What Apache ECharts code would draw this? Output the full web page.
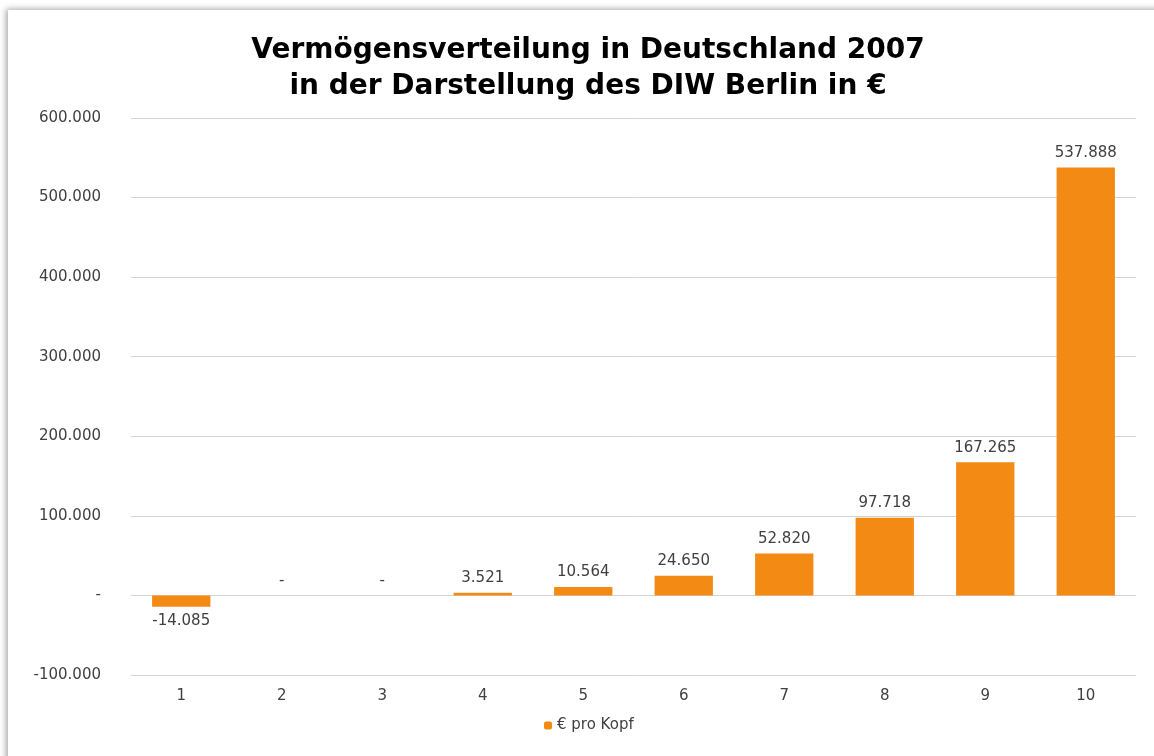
<!DOCTYPE html>
<html>
<head>
<meta charset="utf-8">
<script src="https://cdn.jsdelivr.net/npm/echarts@6/dist/echarts.min.js"></script>
<style>
  html, body { margin: 0; padding: 0; background: #ffffff; }
  #frame {
    position: absolute; left: 8px; top: 10px; width: 1170px; height: 770px;
    background: #ffffff; box-shadow: -2px -1px 6px rgba(0,0,0,0.35);
  }
  #main { position: absolute; left: 0; top: 0; width: 1154px; height: 756px; }
</style>
</head>
<body>
<div id="frame"></div>
<div id="main"></div>
<script>
var deciles = ['1', '2', '3', '4', '5', '6', '7', '8', '9', '10'];
var euroProKopf = [-14085, 0, 0, 3521, 10564, 24650, 52820, 97718, 167265, 537888];
var seriesName = '€ pro Kopf';

// deutsches Zahlenformat, 0 als "-"
function fmt(v) {
    if (v === 0) return '-';
    var s = Math.abs(v).toString().replace(/\B(?=(\d{3})+(?!\d))/g, '.');
    return (v < 0 ? '-' : '') + s;
}

var barData = euroProKopf.map(function (v) {
    return { value: v, label: { position: v < 0 ? 'bottom' : 'top' } };
});

var option = {
    animation: false,
    textStyle: { fontFamily: 'DejaVu Sans' },
    title: {
        text: 'Vermögensverteilung in Deutschland 2007\nin der Darstellung des DIW Berlin in €',
        left: 583,
        top: 28,
        textAlign: 'center',
        textStyle: {
            fontFamily: 'DejaVu Sans',
            fontWeight: 'bold',
            fontSize: 28,
            lineHeight: 36,
            color: '#000000'
        }
    },
    legend: {
        data: [seriesName],
        left: 539,
        bottom: 18,
        itemWidth: 8,
        itemHeight: 8,
        itemGap: 4,
        textStyle: { fontSize: 15, color: '#404040', fontFamily: 'DejaVu Sans' }
    },
    grid: { left: 131, right: 18, top: 118, bottom: 81 },
    xAxis: {
        type: 'category',
        data: deciles,
        axisLine: { show: false, onZero: false },
        axisTick: { show: false },
        axisLabel: { margin: 14, fontSize: 15, color: '#404040' }
    },
    yAxis: {
        type: 'value',
        min: -100000,
        max: 600000,
        interval: 100000,
        axisLine: { show: false },
        axisTick: { show: false },
        splitLine: { lineStyle: { color: '#d4d4d4', width: 1 } },
        axisLabel: {
            margin: 30,
            fontSize: 15,
            color: '#404040',
            formatter: fmt
        }
    },
    series: [{
        name: seriesName,
        type: 'bar',
        data: barData,
        barWidth: '58%',
        itemStyle: { color: '#f28a14' },
        label: {
            show: true,
            distance: 7,
            fontSize: 15,
            color: '#404040',
            formatter: function (p) { return fmt(p.value); }
        }
    }]
};

var chart = echarts.init(document.getElementById('main'));
chart.setOption(option);
window.onresize = chart.resize;
</script>
</body>
</html>
